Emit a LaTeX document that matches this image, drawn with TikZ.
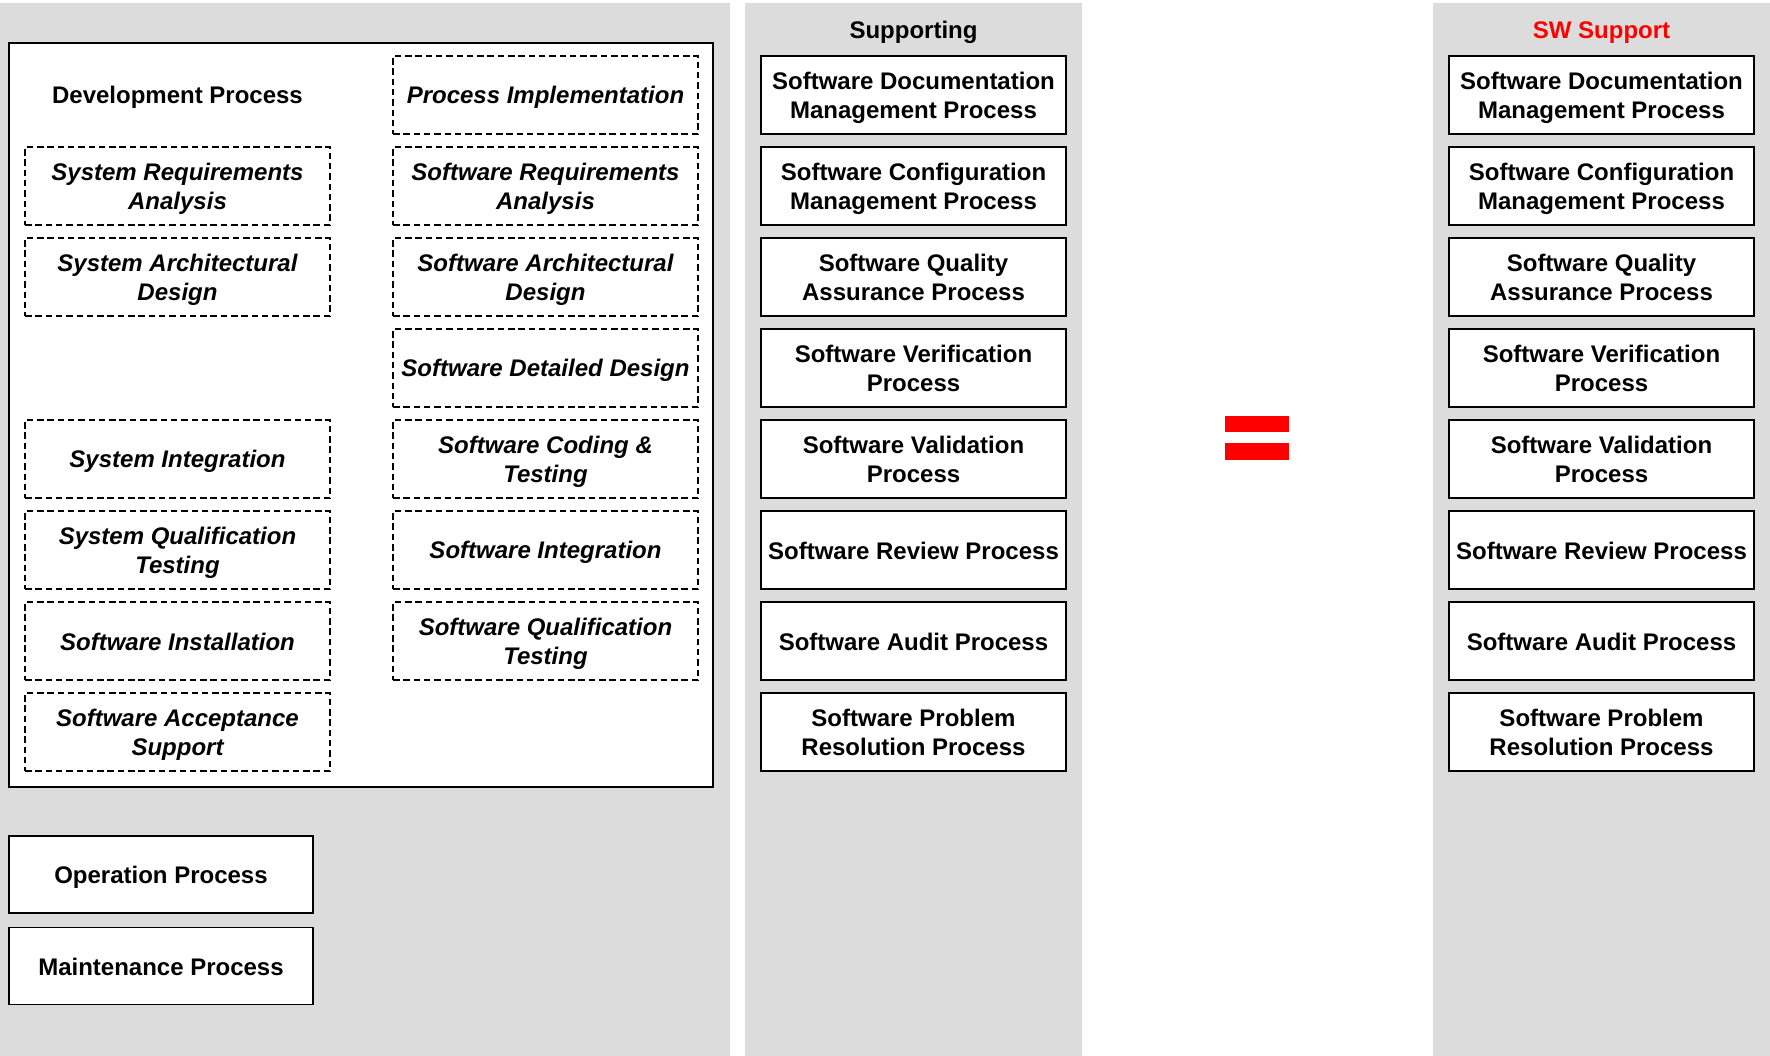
\documentclass[tikz,border=0pt]{standalone}
\usepackage{fontspec}
\setmainfont{Liberation Sans}
\definecolor{panelgray}{RGB}{220,220,220}
\definecolor{eqred}{RGB}{255,0,0}
\newcommand{\lstrut}{\rule[-4.2pt]{0pt}{26.8pt}}
\newcommand{\one}[1]{\lstrut#1}
\newcommand{\two}[2]{\lstrut#1\\\lstrut#2}
\tikzset{
  basebox/.style={rectangle, minimum width=305pt, minimum height=78pt, inner sep=0pt, align=center,
    font=\fontsize{24}{29}\selectfont\bfseries, fill=white},
  solidbox/.style={basebox, draw=black, line width=1.4pt},
  dashbox/.style={basebox, draw=black, line width=1.3pt, dash pattern=on 6.5pt off 3.8pt,
    font=\fontsize{24}{29}\selectfont\bfseries\itshape},
  opbox/.style={solidbox, minimum width=304pt, minimum height=77pt},
  title/.style={anchor=base, inner sep=0pt, font=\fontsize{24}{29}\selectfont\bfseries},
  panel/.style={fill=panelgray},
  eqbar/.style={fill=eqred}
}
\begin{document}
\begin{tikzpicture}[x=1pt,y=-1pt]
\useasboundingbox (0,0) rectangle (1770,1056);
\fill[white] (0,0) rectangle (1770,1056);
% gray panels
\fill[panel] (0,3) rectangle (730,1056);
\fill[panel] (745,3) rectangle (1082,1056);
\fill[panel] (1433,3) rectangle (1770,1056);
% development frame
\node[draw=black, line width=1.4pt, fill=white, minimum width=704pt, minimum height=744pt, inner sep=0pt] (dev) at (361,415) {};
\node[title] (devt) at (177.5,104) {Development Process};
% left dashed column
\node[dashbox] (l1) at (177.5,186) {\two{System Requirements}{Analysis}};
\node[dashbox] (l2) at (177.5,277) {\two{System Architectural}{Design}};
\node[dashbox] (l4) at (177.5,459) {\one{System Integration}};
\node[dashbox] (l5) at (177.5,550) {\two{System Qualification}{Testing}};
\node[dashbox] (l6) at (177.5,641) {\one{Software Installation}};
\node[dashbox] (l7) at (177.5,732) {\two{Software Acceptance}{Support}};
% right dashed column
\node[dashbox] (r0) at (545.5,95) {\one{Process Implementation}};
\node[dashbox] (r1) at (545.5,186) {\two{Software Requirements}{Analysis}};
\node[dashbox] (r2) at (545.5,277) {\two{Software Architectural}{Design}};
\node[dashbox] (r3) at (545.5,368) {\one{Software Detailed Design}};
\node[dashbox] (r4) at (545.5,459) {\two{Software Coding \&}{Testing}};
\node[dashbox] (r5) at (545.5,550) {\one{Software Integration}};
\node[dashbox] (r6) at (545.5,641) {\two{Software Qualification}{Testing}};
% operation / maintenance
\node[opbox] (op) at (161,874.5) {\one{Operation Process}};
\node[opbox] (mt) at (161,966) {\one{Maintenance Process}};
% supporting column
\node[title] (st) at (913.5,38.5) {Supporting};
\node[solidbox] (s0) at (913.5,95) {\two{Software Documentation}{Management Process}};
\node[solidbox] (s1) at (913.5,186) {\two{Software Configuration}{Management Process}};
\node[solidbox] (s2) at (913.5,277) {\two{Software Quality}{Assurance Process}};
\node[solidbox] (s3) at (913.5,368) {\two{Software Verification}{Process}};
\node[solidbox] (s4) at (913.5,459) {\two{Software Validation}{Process}};
\node[solidbox] (s5) at (913.5,550) {\one{Software Review Process}};
\node[solidbox] (s6) at (913.5,641) {\one{Software Audit Process}};
\node[solidbox] (s7) at (913.5,732) {\two{Software Problem}{Resolution Process}};
% equals sign
\fill[eqbar] (1225,416) rectangle (1289,432);
\fill[eqbar] (1225,443) rectangle (1289,460);
% SW support column
\node[title, text=eqred] (wt) at (1601.5,38.5) {SW Support};
\node[solidbox] (w0) at (1601.5,95) {\two{Software Documentation}{Management Process}};
\node[solidbox] (w1) at (1601.5,186) {\two{Software Configuration}{Management Process}};
\node[solidbox] (w2) at (1601.5,277) {\two{Software Quality}{Assurance Process}};
\node[solidbox] (w3) at (1601.5,368) {\two{Software Verification}{Process}};
\node[solidbox] (w4) at (1601.5,459) {\two{Software Validation}{Process}};
\node[solidbox] (w5) at (1601.5,550) {\one{Software Review Process}};
\node[solidbox] (w6) at (1601.5,641) {\one{Software Audit Process}};
\node[solidbox] (w7) at (1601.5,732) {\two{Software Problem}{Resolution Process}};
\end{tikzpicture}
\end{document}
